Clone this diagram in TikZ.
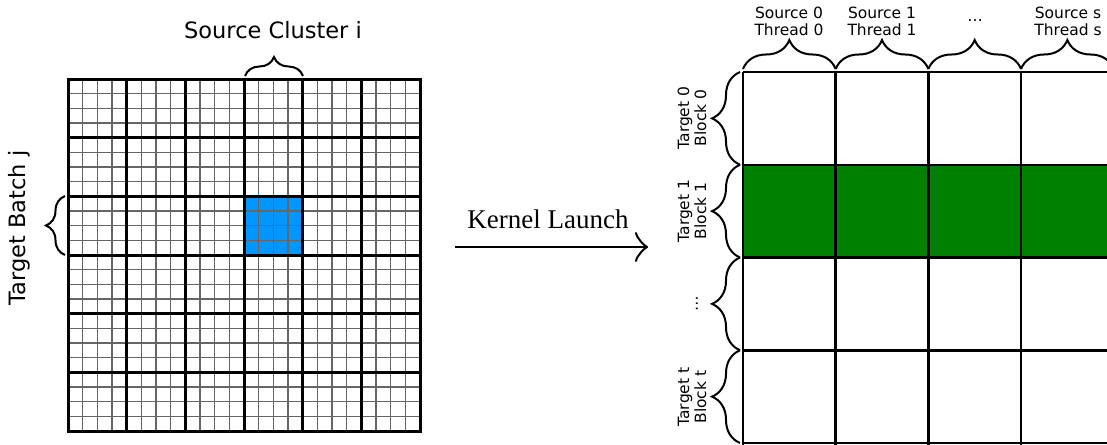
\documentclass[tikz,border=0pt]{standalone}
\usepackage{fontspec}
\setmainfont{DejaVu Sans}
\newfontfamily\timesfont{Liberation Serif}
\usetikzlibrary{decorations.pathreplacing,arrows.meta}
\definecolor{cellblue}{RGB}{0,150,255}
\definecolor{rowgreen}{RGB}{0,128,0}
\begin{document}
\begin{tikzpicture}[x=1pt,y=-1pt,
  thinline/.style={line width=1.2pt,draw=black!60},
  thickline/.style={line width=3pt,draw=black,line cap=rect},
  gridline/.style={line width=2.5pt,draw=black},
  bracestyle/.style={decorate,decoration={brace,amplitude=#1},line width=2pt},
  biglabel/.style={font=\fontsize{22.5}{27}\selectfont},
  smalllabel/.style={font=\fontsize{15.5}{17}\selectfont,align=center}]
\clip (0,0) rectangle (1107,444);
% ---------- left grid ----------
\fill[cellblue] (244.0,196.3) rectangle (302.7,255.0);
\foreach \i in {1,...,23}{
  \draw[thinline] (68+\i*14.6667,79) -- (68+\i*14.6667,431);
  \draw[thinline] (68,79+\i*14.6667) -- (420,79+\i*14.6667);
}
\foreach \i in {0,...,6}{
  \draw[thickline] (68+\i*58.6667,79) -- (68+\i*58.6667,431);
  \draw[thickline] (68,79+\i*58.6667) -- (420,79+\i*58.6667);
}
\coordinate (ctl) at (245,76);
\coordinate (ctr) at (303,76);
\coordinate (rbl) at (65,255);
\coordinate (rbt) at (65,196);
\draw[bracestyle=19pt] (ctl) -- (ctr);
\draw[bracestyle=19pt] (rbl) -- (rbt);
\node[biglabel] (srclab) at (273,30) {Source Cluster i};
\node[biglabel,rotate=90] (tgtlab) at (19,228) {Target Batch j};
% ---------- arrow ----------
\coordinate (arrs) at (455,247);
\coordinate (arre) at (648,247);
\draw[line width=2pt,-{Classical TikZ Rightarrow[length=13pt,width=30pt,line width=2pt]}] (arrs) -- (arre);
\node[font=\timesfont\fontsize{27}{30}\selectfont] (kl) at (548,219) {Kernel Launch};
% ---------- right grid ----------
\fill[rowgreen] (743,164.75) rectangle (1120,257.5);
\foreach \k in {0,...,4}{
  \draw[gridline] (743+\k*92.67,72) -- (743+\k*92.67,450);
  \draw[gridline] (743,72+\k*92.75) -- (1120,72+\k*92.75);
}
\foreach \k in {0,...,3}{
  \draw[bracestyle=29pt] (743+\k*92.67,69) -- (743+\k*92.67+92.67,69);
  \draw[bracestyle=28pt] (740,72+\k*92.75+92.75) -- (740,72+\k*92.75);
}
\node[smalllabel] (s0) at (789,21) {Source 0\\Thread 0};
\node[smalllabel] (s1) at (882,21) {Source 1\\Thread 1};
\node[smalllabel] (sd) at (975,21) {\dots};
\node[smalllabel] (ss) at (1068,21) {Source s\\Thread s};
\node[smalllabel,rotate=90] (t0) at (692,118) {Target 0\\Block 0};
\node[smalllabel,rotate=90] (t1) at (692,211) {Target 1\\Block 1};
\node[smalllabel,rotate=90] (td) at (697,304) {\dots};
\node[smalllabel,rotate=90] (tt) at (692,397) {Target t\\Block t};
\end{tikzpicture}
\end{document}
